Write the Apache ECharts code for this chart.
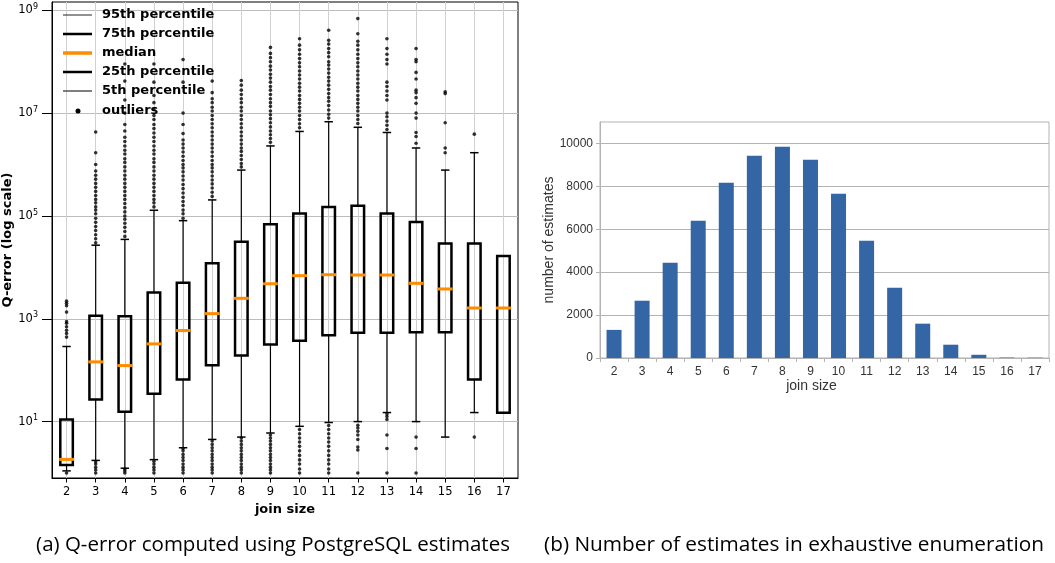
<!DOCTYPE html>
<html><head><meta charset="utf-8">
<script src="https://cdn.jsdelivr.net/npm/echarts@6/dist/echarts.min.js"></script>
<style>html,body{margin:0;padding:0;background:#fff}#c{width:1055px;height:563px}</style>
</head><body><div id="c"></div>
<script>
// ---------- data ----------
const joinSizes = [2,3,4,5,6,7,8,9,10,11,12,13,14,15,16,17];
const p5     = [1.10, 1.76, 1.24, 1.82, 3.1, 4.5, 5.0, 6.0, 8.1, 9.6, 10, 15, 10, 5.0, 15, 14.8];
const q1     = [1.43, 27, 15.5, 35, 66, 125, 194, 316, 372, 480, 535, 535, 550, 545, 66, 14.8];
const median = [1.84, 145, 123, 325, 590, 1260, 2500, 4800, 6900, 7200, 7100, 7100, 4900, 3800, 1620, 1620];
const q3     = [11, 1150, 1120, 3250, 5000, 12000, 31600, 69000, 112000, 150000, 158000, 112000, 76000, 29000, 29000, 16600];
const p95    = [289, 27000, 35000, 129000, 81000, 205000, 780000, 2.3e6, 4.4e6, 6.8e6, 5.3e6, 4.2e6, 2.1e6, 780000, 1.7e6, 16600];
const outliers = [
  [440, 520, 600, 700, 820, 880, 1350, 1800, 2000, 2200, 1.0],
  [3e4, 3.6e4, 4.3e4, 5.2e4, 6.2e4, 7.5e4, 9e4, 1.1e5, 1.3e5, 1.5e5, 1.8e5, 2.1e5, 2.5e5, 3e5, 3.6e5, 4.3e5, 5.2e5, 6.2e5, 7.5e5, 1e6, 1.7e6, 4.3e6, 1.0, 1.15, 1.3, 1.5, 1.65],
  [4e4, 5e4, 6e4, 7.2e4, 8.6e4, 1e5, 1.2e5, 1.45e5, 1.75e5, 2.1e5, 2.5e5, 3e5, 3.6e5, 4.3e5, 5.2e5, 6.2e5, 7.5e5, 9e5, 1.1e6, 1.3e6, 1.6e6, 1.9e6, 2.3e6, 2.8e6, 3.4e6, 4.5e6, 6e6, 1e7, 1.8e7, 4.2e7, 9e7, 1.0, 1.1, 1.2],
  [1.5e5, 1.8e5, 2.1e5, 2.5e5, 3e5, 3.6e5, 4.3e5, 5.2e5, 6.2e5, 7.5e5, 9e5, 1.1e6, 1.3e6, 1.6e6, 1.9e6, 2.3e6, 2.8e6, 3.4e6, 4.1e6, 5e6, 6e6, 7.5e6, 9e6, 1.2e7, 1.6e7, 2.2e7, 4e7, 9e7, 1.0, 1.15, 1.3, 1.5, 1.7],
  [9e4, 1.1e5, 1.3e5, 1.6e5, 1.9e5, 2.3e5, 2.8e5, 3.4e5, 4.1e5, 5e5, 6e5, 7.2e5, 8.6e5, 1e6, 1.2e6, 1.45e6, 1.75e6, 2.1e6, 2.5e6, 3e6, 4e6, 6e6, 1e7, 4e7, 1.1e8, 1.0, 1.15, 1.3, 1.5, 1.75, 2.0, 2.3, 2.7, 3.0],
  [2.4e5, 2.9e5, 3.5e5, 4.2e5, 5e5, 6e5, 7.2e5, 8.6e5, 1e6, 1.2e6, 1.45e6, 1.75e6, 2.1e6, 2.5e6, 3e6, 3.6e6, 4.3e6, 5.2e6, 6.2e6, 7.5e6, 9e6, 1.1e7, 1.3e7, 1.6e7, 1.9e7, 2.5e7, 4.2e7, 1.0, 1.15, 1.3, 1.5, 1.75, 2.0, 2.3, 2.7, 3.1, 3.6, 4.2],
  [9e5, 1.05e6, 1.25e6, 1.5e6, 1.8e6, 2.1e6, 2.5e6, 3e6, 3.6e6, 4.3e6, 5.2e6, 6.2e6, 7.5e6, 9e6, 1.1e7, 1.3e7, 1.6e7, 1.9e7, 2.3e7, 2.8e7, 3.5e7, 4.3e7, 1.0, 1.15, 1.3, 1.5, 1.75, 2.0, 2.3, 2.7, 3.1, 3.6, 4.2, 4.8],
  [2.7e6, 3.2e6, 3.8e6, 4.5e6, 5.4e6, 6.5e6, 7.8e6, 9.3e6, 1.1e7, 1.35e7, 1.6e7, 1.9e7, 2.3e7, 2.8e7, 3.3e7, 4e7, 4.8e7, 5.7e7, 6.9e7, 8.2e7, 1e8, 1.2e8, 1.45e8, 1.9e8, 1.0, 1.15, 1.3, 1.5, 1.75, 2.0, 2.3, 2.7, 3.1, 3.6, 4.2, 4.8, 5.5],
  [5.2e6, 6.2e6, 7.5e6, 9e6, 1.1e7, 1.3e7, 1.55e7, 1.85e7, 2.2e7, 2.7e7, 3.2e7, 3.8e7, 4.6e7, 5.5e7, 6.6e7, 8e7, 9.5e7, 1.15e8, 1.4e8, 1.7e8, 2.1e8, 2.8e8, 1.0, 1.2, 1.5, 1.8, 2.2, 2.7, 3.3, 4.0, 4.8, 5.8, 7.0],
  [8e6, 9.5e6, 1.15e7, 1.4e7, 1.7e7, 2e7, 2.4e7, 2.9e7, 3.5e7, 4.2e7, 5e7, 6e7, 7.2e7, 8.6e7, 1e8, 1.25e8, 1.5e8, 1.8e8, 2.2e8, 2.6e8, 4.1e8, 1.0, 1.2, 1.5, 1.8, 2.2, 2.7, 3.3, 4.0, 4.8, 5.8, 7.0, 8.4],
  [6.3e6, 7.5e6, 9e6, 1.1e7, 1.3e7, 1.55e7, 1.85e7, 2.2e7, 2.7e7, 3.2e7, 3.8e7, 4.6e7, 5.5e7, 6.6e7, 8e7, 9.5e7, 1.15e8, 1.4e8, 1.7e8, 2.1e8, 2.5e8, 3.5e8, 6.9e8, 1.0, 2.8, 3.2, 4.5, 5.5, 6.5, 7.5, 8.5],
  [4.8e6, 5.8e6, 7e6, 8.5e6, 1e7, 1.8e7, 2.2e7, 2.7e7, 3.3e7, 4e7, 9e7, 1.1e8, 1.4e8, 1.8e8, 2.8e8, 1.0, 3.0, 5.5, 11, 12.5, 14],
  [2.6e6, 3.5e6, 4.2e6, 8e6, 1e7, 1.55e7, 2e7, 2.5e7, 2.8e7, 4.6e7, 6.2e7, 1e8, 1.1e8, 1.8e8, 1.0, 3.0, 5.0],
  [1.7e6, 2.1e6, 6.5e6, 2.4e7, 2.6e7],
  [3.9e6, 5.0],
  []
];
const qErrorTicks = [10, 1e3, 1e5, 1e7, 1e9];
const estimateCounts = [1310, 2670, 4440, 6400, 8170, 9430, 9850, 9240, 7660, 5470, 3280, 1600, 620, 150, 20, 15];
const countTicks = [0, 2000, 4000, 6000, 8000, 10000];
const legendLabels = ['95th percentile', '75th percentile', 'median', '25th percentile', '5th percentile', 'outliers'];
const captionA = '(a) Q-error computed using PostgreSQL estimates';
const captionB = '(b) Number of estimates in exhaustive enumeration';

// ---------- build ----------
const chart = echarts.init(document.getElementById('c'), null, {renderer: 'canvas'});
const boxData = joinSizes.map((s, i) => [s, p5[i], q1[i], median[i], q3[i], p95[i]]);
const outlierData = [];
joinSizes.forEach((s, i) => outliers[i].forEach(v => outlierData.push([s, v])));

const ORANGE = '#ff8c00';
function renderBox(params, api) {
  const x = api.value(0);
  const c = v => api.coord([x, v]);
  const lo = c(api.value(1)), b1 = c(api.value(2)), md = c(api.value(3)), b3 = c(api.value(4)), hi = c(api.value(5));
  const cx = lo[0];
  const band = api.coord([x + 1, api.value(3)])[0] - cx;
  const hw = band * 0.215, cw = band * 0.145;
  const ws = {stroke: '#000', lineWidth: 1.2};
  const cs = {stroke: '#000', lineWidth: 1.5};
  return {type: 'group', children: [
    {type: 'line', shape: {x1: cx, y1: lo[1], x2: cx, y2: b1[1]}, style: ws},
    {type: 'line', shape: {x1: cx, y1: b3[1], x2: cx, y2: hi[1]}, style: ws},
    {type: 'line', shape: {x1: cx - cw, y1: lo[1], x2: cx + cw, y2: lo[1]}, style: cs},
    {type: 'line', shape: {x1: cx - cw, y1: hi[1], x2: cx + cw, y2: hi[1]}, style: cs},
    {type: 'rect', shape: {x: cx - hw, y: b3[1], width: 2 * hw, height: b1[1] - b3[1]}, style: {fill: 'none', stroke: '#000', lineWidth: 2.5}},
    {type: 'line', shape: {x1: cx - hw - 1.2, y1: md[1], x2: cx + hw + 1.2, y2: md[1]}, style: {stroke: ORANGE, lineWidth: 3}}
  ]};
}

const DJ = 'DejaVu Sans', LS = 'Liberation Sans';
const legendY = [15, 34, 53, 72, 91, 111];
const legendStyles = [
  {stroke: '#222', lineWidth: 1},
  {stroke: '#000', lineWidth: 2.5},
  {stroke: ORANGE, lineWidth: 3.5},
  {stroke: '#000', lineWidth: 2.5},
  {stroke: '#555', lineWidth: 1.5},
  null
];
const graphics = [];
legendLabels.forEach((t, i) => {
  if (legendStyles[i]) {
    graphics.push({type: 'line', z: 100, shape: {x1: 63, y1: legendY[i], x2: 92, y2: legendY[i]}, style: legendStyles[i]});
  } else {
    graphics.push({type: 'circle', z: 100, shape: {cx: 78, cy: legendY[i], r: 2.5}, style: {fill: '#000'}});
  }
  graphics.push({type: 'text', z: 100, style: {text: t, x: 102, y: legendY[i], fill: '#000', font: 'bold 13px "DejaVu Sans"', verticalAlign: 'middle'}});
});
graphics.push({type: 'text', style: {text: captionA, x: 273, y: 545, fill: '#000', font: '20.5px "Open Sans"', align: 'center', verticalAlign: 'middle'}});
graphics.push({type: 'text', style: {text: captionB, x: 794, y: 545, fill: '#000', font: '20.8px "Open Sans"', align: 'center', verticalAlign: 'middle'}});

const option = {
  animation: false,
  backgroundColor: '#fff',
  grid: [
    {left: 52, top: 2, width: 466, height: 476, show: true, borderColor: '#000', borderWidth: 1, backgroundColor: 'transparent'},
    {left: 600, top: 122, width: 449, height: 236, show: true, borderColor: '#b3b3b3', borderWidth: 1, backgroundColor: 'transparent'}
  ],
  xAxis: [
    {gridIndex: 0, type: 'value', min: 1.5, max: 17.5,
     axisLine: {onZero: false, lineStyle: {color: '#000', width: 1}},
     axisTick: {show: true, customValues: joinSizes, length: 4.5, lineStyle: {color: '#000'}},
     axisLabel: {customValues: joinSizes, margin: 8, fontSize: 11.5, color: '#000', fontFamily: DJ},
     splitLine: {show: true, lineStyle: {color: '#d0d0d0', width: 1}},
     name: 'join size', nameLocation: 'middle', nameGap: 24,
     nameTextStyle: {fontFamily: DJ, fontWeight: 'bold', fontSize: 13, color: '#000'}},
    {gridIndex: 1, type: 'category', data: joinSizes.map(String),
     axisLine: {lineStyle: {color: '#b3b3b3'}},
     axisTick: {show: true, length: 4, interval: 0, lineStyle: {color: '#b3b3b3'}},
     axisLabel: {interval: 0, margin: 8, fontSize: 12, color: '#333', fontFamily: LS},
     splitLine: {show: false},
     name: 'join size', nameLocation: 'middle', nameGap: 20,
     nameTextStyle: {fontFamily: LS, fontSize: 14, color: '#333', padding: [0, 26, 0, 0]}}
  ],
  yAxis: [
    {gridIndex: 0, type: 'log', logBase: 10, min: 0.8, max: 1.45e9,
     axisLine: {show: true, onZero: false, lineStyle: {color: '#000', width: 1}},
     axisTick: {show: true, customValues: qErrorTicks, length: 10, lineStyle: {color: '#000'}},
     axisLabel: {customValues: qErrorTicks, margin: 14,
       formatter: v => '{b|10}{s|' + Math.round(Math.log10(v)) + '}',
       rich: {b: {fontSize: 11.5, fontFamily: DJ, color: '#000'},
              s: {fontSize: 8, fontFamily: DJ, color: '#000', padding: [0, 0, 7, 0]}}},
     splitLine: {show: true, lineStyle: {color: '#bdbdbd', width: 1}},
     minorTick: {show: false},
     name: 'Q-error (log scale)', nameLocation: 'middle', nameGap: 33,
     nameTextStyle: {fontFamily: DJ, fontWeight: 'bold', fontSize: 13, color: '#000'}},
    {gridIndex: 1, type: 'value', min: 0, max: 11000,
     axisLine: {show: true, lineStyle: {color: '#b3b3b3'}},
     axisTick: {show: true, customValues: countTicks, length: 4, lineStyle: {color: '#b3b3b3'}},
     axisLabel: {customValues: countTicks, margin: 7, fontSize: 12, color: '#333', fontFamily: LS,
       formatter: v => String(v)},
     splitLine: {show: true, lineStyle: {color: '#b3b3b3', width: 1}},
     name: 'number of estimates', nameLocation: 'middle', nameGap: 27,
     nameTextStyle: {fontFamily: LS, fontSize: 14, color: '#333'}}
  ],
  series: [
    {type: 'scatter', xAxisIndex: 0, yAxisIndex: 0, data: outlierData, symbol: 'circle', symbolSize: 3.6,
     itemStyle: {color: '#000'}, silent: true, z: 2},
    {type: 'custom', xAxisIndex: 0, yAxisIndex: 0, data: boxData, renderItem: renderBox,
     encode: {x: 0, y: [1, 2, 3, 4, 5]}, z: 3, silent: true},
    {type: 'bar', xAxisIndex: 1, yAxisIndex: 1, data: estimateCounts, barWidth: 15,
     itemStyle: {color: '#3465a4'}, silent: true}
  ],
  graphic: graphics
};
chart.setOption(option);
</script>
</body></html>
